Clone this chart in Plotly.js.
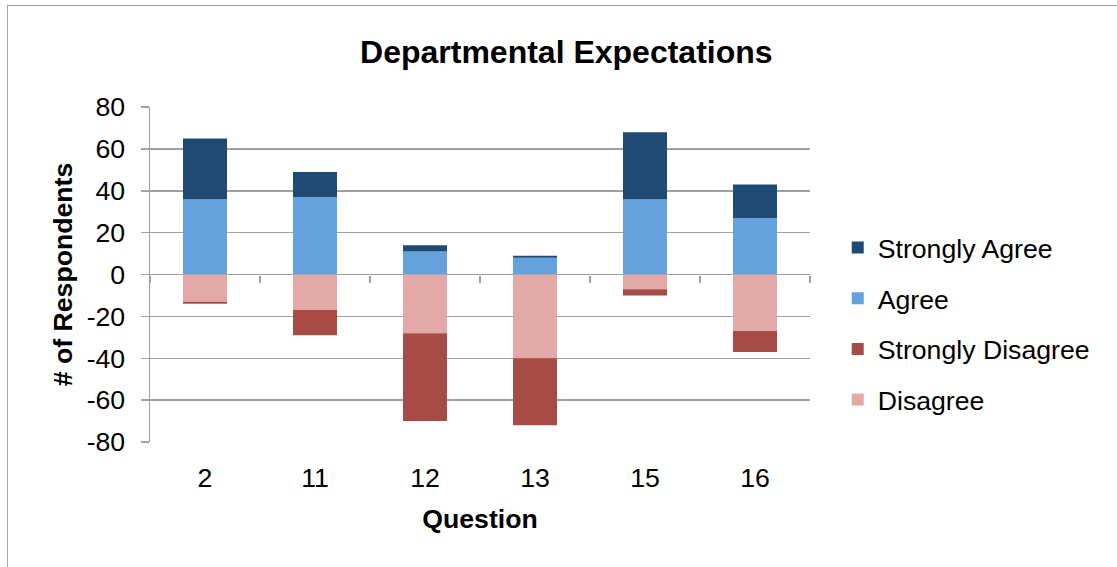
<!DOCTYPE html>
<html>
<head>
<meta charset="utf-8">
<script src="https://cdn.plot.ly/plotly-3.0.1.min.js"></script>
<style>
  html, body { margin: 0; padding: 0; background: #ffffff; }
  #wrap { position: relative; width: 1117px; height: 567px; overflow: hidden; }
  #chart { width: 1117px; height: 567px; }
  #frame {
    position: absolute; left: 7px; top: 5px; width: 1300px; height: 800px;
    border: 1.5px solid #a6a6a6; pointer-events: none; box-sizing: border-box;
  }
</style>
</head>
<body>
<div id="wrap">
  <div id="chart"></div>
  <div id="frame"></div>
</div>
<script>
// Survey responses per question
const questions = ['2', '11', '12', '13', '15', '16'];
const agree = [36, 37, 11, 8, 36, 27];
const stronglyAgree = [29, 12, 3, 1, 32, 16];
const disagree = [13, 17, 28, 40, 7, 27];
const stronglyDisagree = [1, 12, 42, 32, 3, 10];
const yTicks = [-80, -60, -40, -20, 0, 20, 40, 60, 80];

const FONT = 'Liberation Sans, Arial, sans-serif';
const TXT = 26.67;
const neg = arr => arr.map(v => -v);

const traces = [
  { name: 'Agree', y: agree, color: '#64A1DD', rank: 2 },
  { name: 'Strongly Agree', y: stronglyAgree, color: '#1F4A74', rank: 1 },
  { name: 'Disagree', y: neg(disagree), color: '#E2A9A7', rank: 4 },
  { name: 'Strongly Disagree', y: neg(stronglyDisagree), color: '#A64B45', rank: 3 }
].map(t => ({
  type: 'bar',
  x: questions,
  y: t.y,
  name: t.name,
  legendgroup: t.name,
  legendrank: t.rank,
  marker: { color: t.color, line: { width: 0 } },
  hoverinfo: 'name+y'
}));

const layout = {
  width: 1117,
  height: 567,
  margin: { l: 150, r: 307, t: 107, b: 125 },
  paper_bgcolor: '#ffffff',
  plot_bgcolor: '#ffffff',
  barmode: 'relative',
  bargap: 0.6,
  font: { family: FONT, size: TXT, color: '#000000' },
  title: {
    text: '<b>Departmental Expectations</b>',
    font: { family: FONT, size: 32, color: '#000000' },
    xref: 'container', x: 0.507, xanchor: 'center',
    yref: 'container', y: 0.908, yanchor: 'middle'
  },
  xaxis: {
    type: 'category',
    categoryorder: 'array',
    categoryarray: questions,
    showline: false,
    showgrid: false,
    zeroline: false,
    ticks: '',
    ticklabelstandoff: 17,
    tickfont: { family: FONT, size: TXT, color: '#000000' },
    title: { text: '<b>Question</b>', font: { family: FONT, size: TXT, color: '#000000' }, standoff: 17 }
  },
  // tick marks along the zero line, at the category boundaries
  xaxis2: {
    type: 'category',
    categoryorder: 'array',
    categoryarray: questions,
    overlaying: 'x',
    matches: 'x',
    anchor: 'free',
    position: 0.5,
    side: 'bottom',
    showline: false,
    showgrid: false,
    zeroline: false,
    ticks: 'outside',
    tickson: 'boundaries',
    ticklen: 7,
    tickwidth: 1.5,
    tickcolor: '#a0a0a0',
    showticklabels: false
  },
  yaxis: {
    range: [-80, 80],
    tickvals: yTicks,
    ticktext: yTicks.map(String),
    showline: true,
    linecolor: '#a0a0a0',
    linewidth: 1.5,
    showgrid: true,
    gridcolor: '#a0a0a0',
    gridwidth: 1.5,
    zeroline: true,
    zerolinecolor: '#a0a0a0',
    zerolinewidth: 1.5,
    ticks: 'outside',
    ticklen: 8,
    tickwidth: 1.5,
    tickcolor: '#a0a0a0',
    ticklabelstandoff: 10,
    tickfont: { family: FONT, size: TXT, color: '#000000' },
    title: { text: '<b># of Respondents</b>', font: { family: FONT, size: TXT, color: '#000000' }, standoff: 6 }
  },
  legend: {
    x: 1.042, xanchor: 'left',
    y: 0.353, yanchor: 'middle',
    traceorder: 'grouped',
    tracegroupgap: 13,
    font: { family: FONT, size: TXT, color: '#000000' },
    bgcolor: 'rgba(0,0,0,0)'
  },
  showlegend: true
};

// invisible companion trace so the boundary ticks have categories to sit on
traces.push({
  type: 'bar', x: questions, y: questions.map(() => null),
  xaxis: 'x2', showlegend: false, hoverinfo: 'skip'
});

Plotly.newPlot('chart', traces, layout, { displayModeBar: false, staticPlot: true });
</script>
</body>
</html>
